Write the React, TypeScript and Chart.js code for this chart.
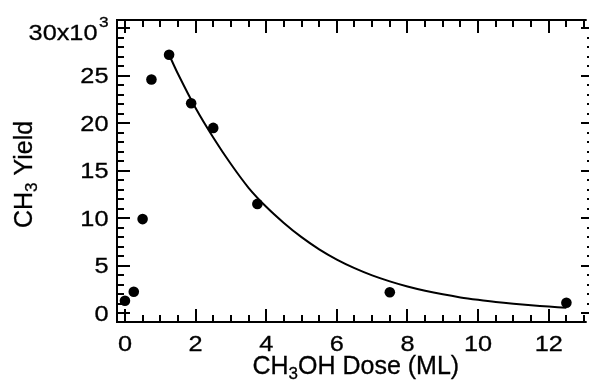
import React, { useEffect, useRef } from "react";
import { Chart, registerables } from "chart.js";
Chart.register(...registerables);

// Measured data points: CH3OH dose (ML) vs CH3 yield
const doseML = [0, 0.25, 0.5, 0.75, 1.25, 1.875, 2.5, 3.75, 7.5, 12.5];
const ch3Yield = [1300, 2250, 9900, 24600, 27200, 22100, 19500, 11500, 2200, 1100];

// Fitted curve
const fitDose = [1.25, 1.5, 2, 2.5, 3, 3.5, 4, 4.5, 5, 5.5, 6, 6.5, 7, 7.5, 8, 8.5, 9, 9.5, 10, 10.5, 11, 11.5, 12, 12.5];
const fitYield = [27200, 25200, 21600, 18500, 15700, 13200, 11200, 9500, 8000, 6720, 5640, 4740, 3980, 3350, 2810, 2360, 1980, 1660, 1400, 1170, 985, 830, 695, 560];

// Axis ticks and labels
const xMajorTicks = [0, 2, 4, 6, 8, 10, 12];
const xTickLabels = ["0", "2", "4", "6", "8", "10", "12"];
const yMajorTicks = [0, 5000, 10000, 15000, 20000, 25000, 30000];
const yTickLabels = ["0", "5", "10", "15", "20", "25", "30x10"];
const yTopExponent = "3";

const X_MIN = -0.225;
const X_MAX = 13.075;
const Y_MIN = -930;
const Y_MAX = 30860;

const FONT = '"Liberation Sans", Arial, Helvetica, sans-serif';
const SX = 1.15;

function stretchedText(ctx: CanvasRenderingContext2D, text: string, x: number, y: number, align: CanvasTextAlign, sx: number) {
  ctx.save();
  ctx.translate(x, y);
  ctx.scale(sx, 1);
  ctx.textAlign = align;
  ctx.textBaseline = "alphabetic";
  ctx.lineWidth = 0.3;
  ctx.fillText(text, 0, 0);
  ctx.strokeText(text, 0, 0);
  ctx.restore();
}

const framePlugin = {
  id: "frame",
  beforeDatasetsDraw(chart: any) {
    const ctx: CanvasRenderingContext2D = chart.ctx;
    const { left, right, top, bottom } = chart.chartArea;
    const xs = chart.scales.x;
    const ys = chart.scales.y;
    ctx.save();
    ctx.strokeStyle = "#000";
    ctx.fillStyle = "#000";
    ctx.lineWidth = 2;
    ctx.lineCap = "butt";
    // frame lines (left, top, bottom)
    ctx.beginPath();
    ctx.moveTo(left, top - 1);
    ctx.lineTo(left, bottom + 1);
    ctx.moveTo(left - 1, top);
    ctx.lineTo(right, top);
    ctx.moveTo(left - 1, bottom);
    ctx.lineTo(right, bottom);
    ctx.stroke();

    // x ticks (bottom + top)
    ctx.beginPath();
    for (let i = 0; i <= 26; i++) {
      const v = i * 0.5;
      const px = Math.round(xs.getPixelForValue(v));
      const len = i % 4 === 0 ? 13 : 7;
      ctx.moveTo(px, bottom);
      ctx.lineTo(px, bottom - len);
      ctx.moveTo(px, top);
      ctx.lineTo(px, top + len);
    }
    // y ticks (left + right)
    for (let i = 0; i <= 30; i++) {
      const v = i * 1000;
      const py = Math.round(ys.getPixelForValue(v));
      const major = i % 5 === 0;
      ctx.moveTo(left, py);
      ctx.lineTo(left + (major ? 13 : 7), py);
      if (major) {
        ctx.moveTo(589, py);
        ctx.lineTo(581, py);
      } else {
        ctx.moveTo(589, py);
        ctx.lineTo(587, py);
      }
    }
    ctx.stroke();

    // tick labels
    ctx.font = `22px ${FONT}`;
    xMajorTicks.forEach((v, i) => {
      const px = xs.getPixelForValue(v);
      stretchedText(ctx, xTickLabels[i], px, 350.5, "center", SX);
    });
    yMajorTicks.forEach((v, i) => {
      const py = ys.getPixelForValue(v);
      if (i === yMajorTicks.length - 1) {
        ctx.font = `15px ${FONT}`;
        stretchedText(ctx, yTopExponent, 108.5, 26.7, "right", SX);
        ctx.font = `22px ${FONT}`;
        stretchedText(ctx, yTickLabels[i], 97.5, 39.5, "right", SX);
      } else {
        stretchedText(ctx, yTickLabels[i], 108.5, py + 7.8, "right", SX);
      }
    });

    // x title: CH3OH Dose (ML)
    const big = `25px ${FONT}`;
    const small = `17px ${FONT}`;
    ctx.lineWidth = 0.3;
    const parts: [string, boolean][] = [["CH", false], ["3", true], ["OH Dose (ML)", false]];
    let total = 0;
    parts.forEach(([t, sub]) => {
      ctx.font = sub ? small : big;
      total += ctx.measureText(t).width;
    });
    let cx = 355.8 - total / 2;
    ctx.textAlign = "left";
    ctx.textBaseline = "alphabetic";
    parts.forEach(([t, sub]) => {
      ctx.font = sub ? small : big;
      const yy = sub ? 379 : 374;
      ctx.fillText(t, cx, yy);
      ctx.strokeText(t, cx, yy);
      cx += ctx.measureText(t).width;
    });

    // y title: CH3 Yield (rotated)
    const yparts: [string, boolean][] = [["CH", false], ["3", true], [" Yield", false]];
    let ytotal = 0;
    yparts.forEach(([t, sub]) => {
      ctx.font = sub ? small : big;
      ytotal += ctx.measureText(t).width;
    });
    ctx.save();
    ctx.translate(31.7, 174.5);
    ctx.rotate(-Math.PI / 2);
    let cy = -ytotal / 2;
    yparts.forEach(([t, sub]) => {
      ctx.font = sub ? small : big;
      const yy = sub ? 5 : 0;
      ctx.fillText(t, cy, yy);
      ctx.strokeText(t, cy, yy);
      cy += ctx.measureText(t).width;
    });
    ctx.restore();

    ctx.restore();
  },
};

export default function App() {
  const ref = useRef<HTMLCanvasElement | null>(null);
  useEffect(() => {
    if (!ref.current) return;
    const chart = new Chart(ref.current, {
      type: "scatter",
      data: {
        datasets: [
          {
            label: "fit",
            data: fitDose.map((x, i) => ({ x, y: fitYield[i] })),
            showLine: true,
            borderColor: "#000",
            borderWidth: 2,
            pointRadius: 0,
            tension: 0.3,
            fill: false,
          },
          {
            label: "data",
            data: doseML.map((x, i) => ({ x, y: ch3Yield[i] })),
            showLine: false,
            backgroundColor: "#000",
            borderColor: "#000",
            borderWidth: 0,
            pointRadius: 5.3,
          },
        ],
      },
      options: {
        animation: false,
        responsive: false,
        devicePixelRatio: 1,
        layout: { padding: { left: 117, top: 20, right: 2, bottom: 59 } },
        scales: {
          x: { type: "linear", display: false, min: X_MIN, max: X_MAX },
          y: { type: "linear", display: false, min: Y_MIN, max: Y_MAX },
        },
        plugins: { legend: { display: false }, tooltip: { enabled: false } },
      },
      plugins: [framePlugin],
    });
    return () => chart.destroy();
  }, []);
  return (
    <div style={{ position: "fixed", left: 0, top: 0, width: 589, height: 381, overflow: "hidden", background: "#fff" }}>
      <canvas ref={ref} width={592} height={381} style={{ display: "block" }} />
    </div>
  );
}
